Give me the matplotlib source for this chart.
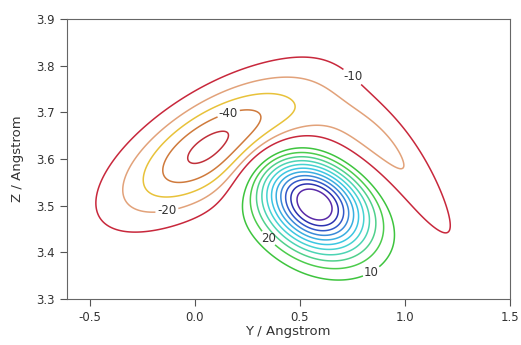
import numpy as np
import matplotlib
matplotlib.use("Agg")
import matplotlib.pyplot as plt

# grid range (Angstrom)
y_range = [-0.61, 1.5]
z_range = [3.3, 3.9]

# potential terms
# deep well: amplitude, centre y, centre z, width y, width z, tilt
deep_well = [-54.0, 0.08, 3.627, 0.30, 0.075, 0.22]
# crescent arm: amplitude, centre y, width y, ridge z, width z, bend, bend y
arm = [-24.0, 0.85, 0.28, 3.68, 0.07, 0.5, 0.55]
# repulsive bump: amplitude, centre y, centre z, width y, width z above, width z below, tilt
bump = [124.0, 0.57, 3.505, 0.177, 0.065, 0.07, 0.12]

neg_levels = [-50, -40, -30, -20, -10]
neg_colors = ['#c0303a', '#cf7a3c', '#e8c23a', '#e2a27a', '#c8283c']
pos_levels = [10, 20, 30, 40, 50, 60, 70, 80, 90, 100, 110]
pos_colors = ['#3ec43e', '#4ccc4c', '#50d08c', '#4cd4b4', '#46d2d2', '#3cc6e2',
              '#3aaee0', '#3a8ad8', '#3258c8', '#2c32b0', '#5a2aa8']

# label anchor points, one per labelled contour
label_pos = [(0.16, 3.70), (-0.13, 3.483), (0.73, 3.765), (0.845, 3.356), (0.35, 3.43)]

yy = np.linspace(y_range[0], y_range[1], 400)
zz = np.linspace(z_range[0], z_range[1], 300)
Y, Z = np.meshgrid(yy, zz)

a, y0, z0, sy, sz, m = deep_well
dy = Y - y0
dz = Z - z0 - m * dy
V = a * np.exp(-0.5 * (dy / sy) ** 2 - 0.5 * (dz / sz) ** 2)

a, y0, sy, z0, sz, k, yb = arm
dy = Y - y0
dz = Z - z0 + k * (Y - yb) ** 2
V += a * np.exp(-0.5 * (dy / sy) ** 2 - 0.5 * (dz / sz) ** 2)

a, y0, z0, sy, sz_up, sz_dn, m = bump
dy = Y - y0
dz = Z - z0 + m * dy
sz = np.where(dz > 0, sz_up, sz_dn)
V += a * np.exp(-0.5 * (dy / sy) ** 2 - 0.5 * (dz / sz) ** 2)

plt.rcParams['font.family'] = 'DejaVu Sans'
fig = plt.figure(figsize=(5.21, 3.45), dpi=100)
ax = fig.add_axes([0.128, 0.133, 0.85, 0.812])

levels = neg_levels + pos_levels
colors = neg_colors + pos_colors
cs = ax.contour(Y, Z, V, levels=levels, colors=colors, linewidths=1.1)
texts = ax.clabel(cs, manual=label_pos, inline=True, inline_spacing=2,
                  fontsize=8.5, colors='#333333', fmt=lambda v: f"{v:.0f}")
for t in texts:
    t.set_rotation(0)

ax.set_xlim(y_range)
ax.set_ylim(z_range)
ax.set_xticks([-0.5, 0.0, 0.5, 1.0, 1.5])
ax.set_yticks([3.3, 3.4, 3.5, 3.6, 3.7, 3.8, 3.9])
ax.xaxis.set_major_formatter(matplotlib.ticker.FormatStrFormatter('%.1f'))
ax.yaxis.set_major_formatter(matplotlib.ticker.FormatStrFormatter('%.1f'))
ax.tick_params(direction='out', length=5, width=0.8, colors='#555555',
               labelcolor='#333333', labelsize=8.5)
for s in ax.spines.values():
    s.set_color('#666666')
    s.set_linewidth(0.8)
ax.set_xlabel('Y / Angstrom', fontsize=9.5, color='#333333', labelpad=1)
ax.set_ylabel('Z / Angstrom', fontsize=9.5, color='#333333', labelpad=9)

fig.savefig('out.png', dpi=100)
